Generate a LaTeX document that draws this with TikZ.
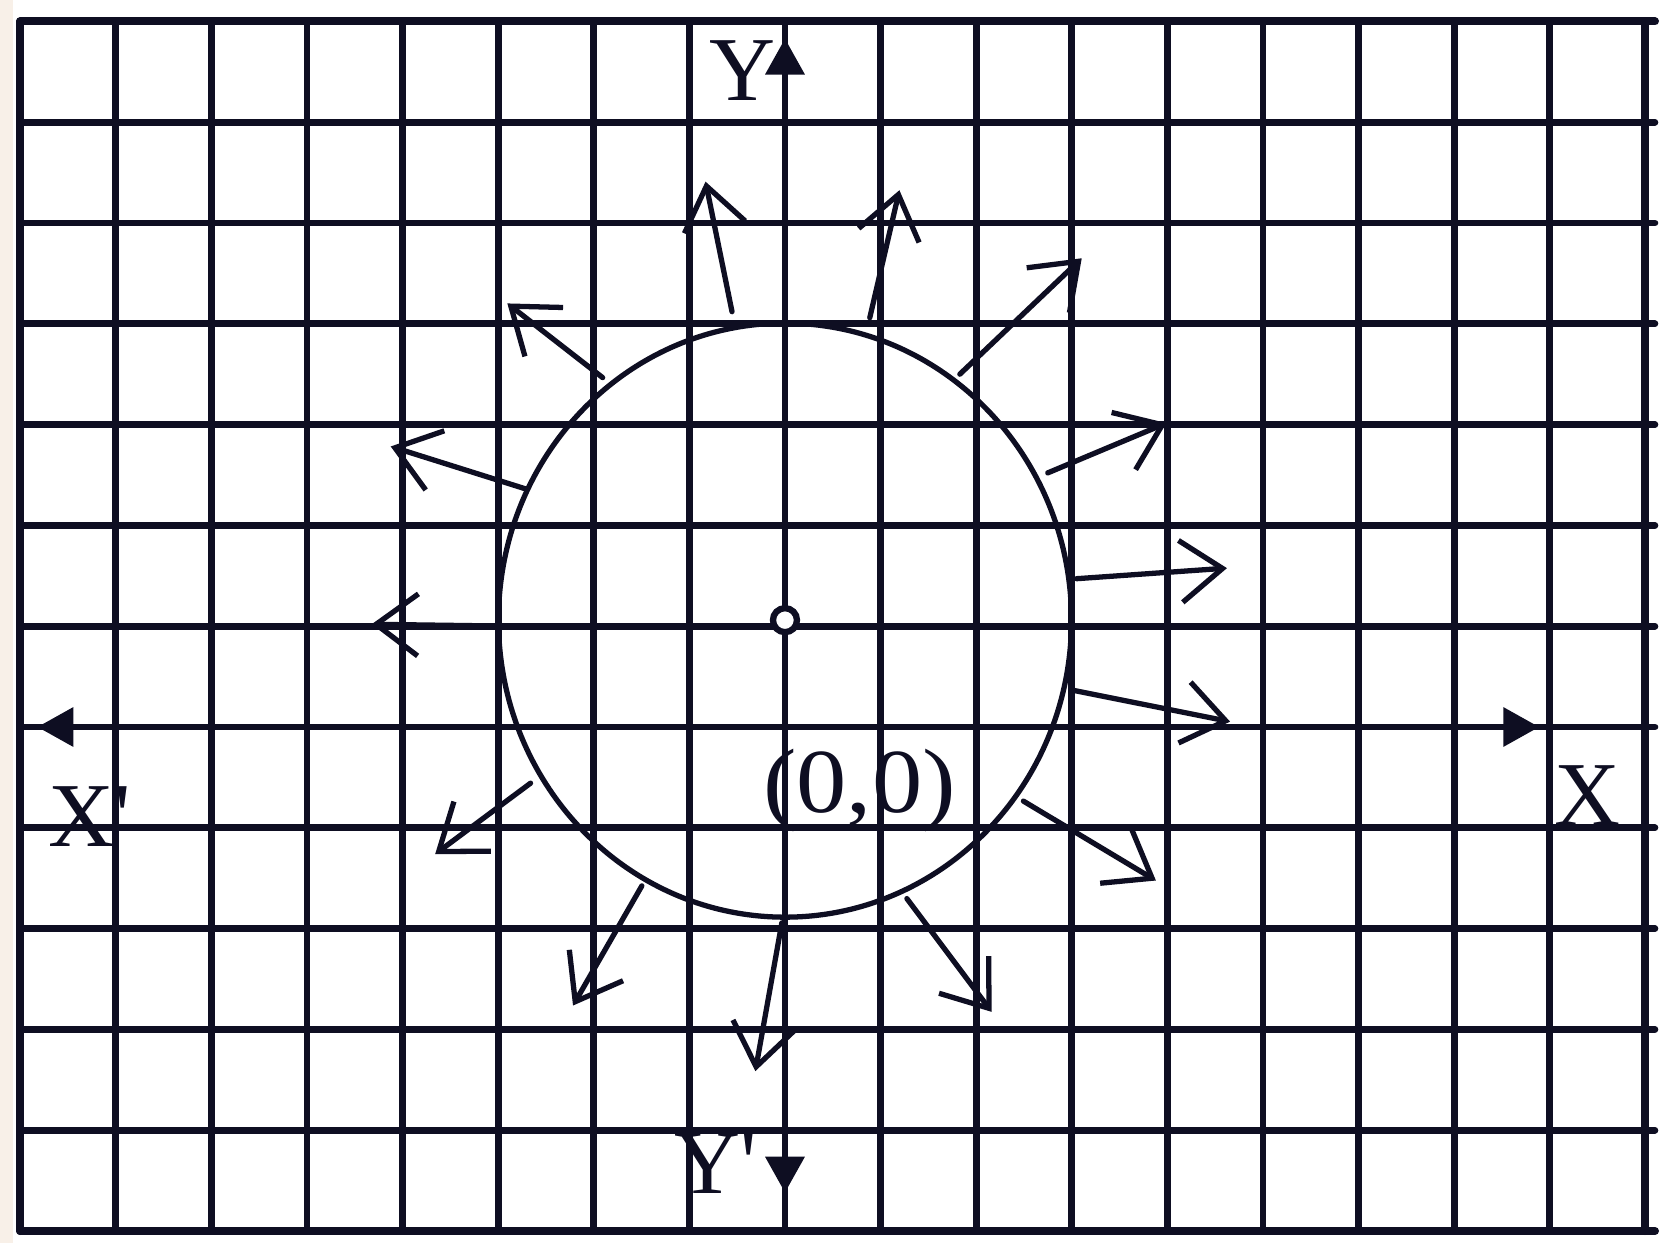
\documentclass[tikz,border=0pt]{standalone}
\usepackage{fontspec}
\setmainfont{Liberation Serif}
\newfontfamily\lblfont{Liberation Serif}
\usetikzlibrary{arrows.meta}
\definecolor{ink}{RGB}{14,14,34}
\definecolor{paperedge}{RGB}{248,240,232}
\begin{document}
\begin{tikzpicture}[x=0.956cm,y=1.008cm,
  gridline/.style={line width=1.9pt, draw=ink, line cap=round},
  borderline/.style={line width=2.3pt, draw=ink, line cap=round},
  radial/.style={line width=1.5pt, draw=ink, line cap=round,
    -{Straight Barb[length=4.2mm,width=6.2mm,line width=1.5pt]}},
  axistip/.style={line width=1.9pt, draw=ink, -{Triangle[length=3.6mm,width=3.8mm]}},
  lbl/.style={text=ink, font=\lblfont\fontsize{26}{30}\selectfont, inner sep=0pt}
]
% canvas
\useasboundingbox (-8.211,-5.119) rectangle (9.184,7.212);
\fill[white] (-8.211,-5.119) rectangle (9.184,7.212);
\fill[paperedge] (-8.211,-5.119) rectangle (-8.08,7.212);

% grid
\foreach \i in {-7,...,8} \draw[gridline] (\i,-5) -- (\i,7);
\foreach \j in {-4,...,6} \draw[gridline] (-8,\j) -- (9.1,\j);
\draw[borderline] (-8,-5) -- (-8,7);
\draw[borderline] (9,-5) -- (9,7);
\draw[borderline] (-8,7) -- (9.1,7);
\draw[borderline] (-8,-5) -- (9.1,-5);

% axes
\coordinate (O) at (0,0);
\coordinate (ytop) at (0,6.83);
\coordinate (ybot) at (0,-4.62);
\coordinate (xleft) at (-7.82,0);
\coordinate (xright) at (7.89,0);
\draw[axistip] (O) -- (ytop);
\draw[axistip] (O) -- (ybot);
\draw[axistip] (O) -- (xleft);
\draw[axistip] (O) -- (xright);

% circle and centre
\coordinate (C) at (0,1.06);
\draw[ink, line width=1.5pt] (C) ellipse [x radius=2.865cm, y radius=2.97cm];
\draw[ink, line width=1.8pt, fill=white] (C) circle [radius=1.2mm];

% radial arrows
\foreach \sx/\sy/\tx/\ty [count=\k] in {
  -0.554/4.12/-0.831/5.41,
  0.887/4.06/1.197/5.325,
  1.829/3.50/3.104/4.65,
  2.749/2.521/3.99/3.015,
  3.048/1.471/4.623/1.576,
  2.993/0.368/4.656/0.053,
  2.494/-0.735/3.88/-1.523,
  1.275/-1.702/2.162/-2.826,
  -0.033/-1.943/-0.31/-3.414,
  -1.497/-1.576/-2.217/-2.763,
  -2.661/-0.557/-3.659/-1.261,
  -2.993/1.002/-4.324/1.019,
  -2.716/2.363/-4.124/2.783,
  -1.907/3.466/-2.904/4.202}
{
  \coordinate (s\k) at (\sx,\sy);
  \coordinate (t\k) at (\tx,\ty);
  \draw[radial] (s\k) -- (t\k);
}

% labels
\node[lbl] (ylab) at (-0.44,6.51) {Y};
\node[lbl] (yplab) at (-0.72,-4.33) {Y'};
\node[lbl] (xplab) at (-7.27,-0.89) {X'};
\node[lbl] (xlab) at (8.39,-0.68) {X};
\node[lbl, xscale=1.1] (olab) at (0.78,-0.63) {(0,0)};
\end{tikzpicture}
\end{document}
